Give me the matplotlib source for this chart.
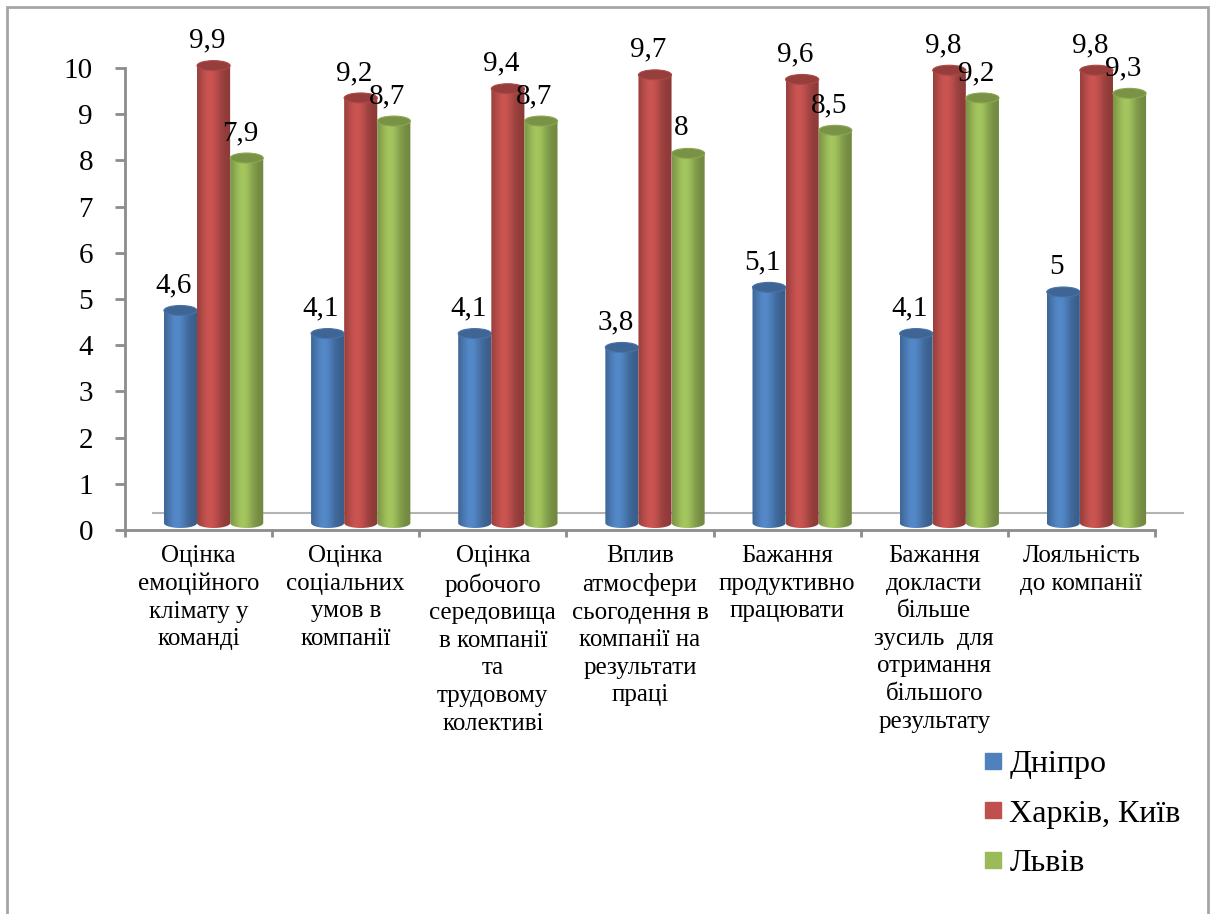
import numpy as np
import matplotlib
matplotlib.use('Agg')
import matplotlib.pyplot as plt
from matplotlib import transforms
from matplotlib.path import Path
from matplotlib.patches import PathPatch, Ellipse, Rectangle
from matplotlib.lines import Line2D
from matplotlib.colors import to_rgb


categories = [
    "Оцінка\nемоційного\nклімату у\nкоманді",
    "Оцінка\nсоціальних\nумов в\nкомпанії",
    "Оцінка\nробочого\nсередовища\nв компанії\nта\nтрудовому\nколективі",
    "Вплив\nатмосфери\nсьогодення в\nкомпанії на\nрезультати\nпраці",
    "Бажання\nпродуктивно\nпрацювати",
    "Бажання\nдокласти\nбільше\nзусиль  для\nотримання\nбільшого\nрезультату",
    "Лояльність\nдо компанії",
]
series_names = ["Дніпро", "Харків, Київ", "Львів"]
dnipro = [4.6, 4.1, 4.1, 3.8, 5.1, 4.1, 5]
kharkiv_kyiv = [9.9, 9.2, 9.4, 9.7, 9.6, 9.8, 9.8]
lviv = [7.9, 8.7, 8.7, 8, 8.5, 9.2, 9.3]
series = [dnipro, kharkiv_kyiv, lviv]
colors = ["#4F81BD", "#C0504D", "#9BBB59"]
y_ticks = list(range(0, 11))

plt.rcParams['font.family'] = 'serif'
plt.rcParams['font.serif'] = ['Liberation Serif', 'DejaVu Serif']

W, H = 1214, 914
fig = plt.figure(figsize=(W / 100, H / 100), dpi=100)
unit = 46.2  # pixels per value unit
y_lo, y_hi = -0.3, 10.6
ax = fig.add_axes([125 / W, (384 + y_lo * unit) / H, 1030 / W, (y_hi - y_lo) * unit / H])

grey = "#8C8C8C"
bar_w = 0.225
cap_h = 0.216

# pseudo-3D: bars sit halfway into the floor, the back edge sits further away
px = fig.dpi_scale_trans
bar_trans = ax.transData + transforms.ScaledTranslation(0.15, 0.07, px)
back_trans = ax.transData + transforms.ScaledTranslation(0.275, 0.17, px)
label_trans = ax.transData + transforms.ScaledTranslation(0.085, 0.25, px)
cat_trans = ax.transData + transforms.ScaledTranslation(0, -0.15, px)


def cylinder(xc, v, color, z):
    x0, x1 = xc - bar_w / 2, xc + bar_w / 2
    th = np.linspace(np.pi, 2 * np.pi, 40)
    bottom = np.column_stack([xc + bar_w / 2 * np.cos(th), cap_h / 2 * np.sin(th)])
    verts = np.vstack([[x0, v], bottom, [x1, v], [x0, v]])
    codes = [Path.MOVETO] + [Path.LINETO] * (len(verts) - 2) + [Path.CLOSEPOLY]
    clip = PathPatch(Path(verts, codes), transform=bar_trans,
                     facecolor="none", edgecolor="none")
    ax.add_patch(clip)

    t = np.linspace(0, 1, 64)
    shade = 0.72 + 0.34 * np.exp(-((t - 0.38) / 0.32) ** 2)
    rgb = np.clip(np.outer(shade, to_rgb(color)), 0, 1)
    im = ax.imshow(rgb[np.newaxis, :, :], extent=[x0, x1, -cap_h / 2, v],
                   aspect="auto", transform=bar_trans, interpolation="bilinear",
                   zorder=z)
    im.set_clip_path(clip)

    top = np.array(to_rgb(color)) * 0.78
    ax.add_patch(Ellipse((xc, v), bar_w, cap_h, transform=bar_trans,
                         facecolor=top, edgecolor=np.array(to_rgb(color)) * 0.9,
                         linewidth=0.8, zorder=z + 0.001))


z = 3.0
for i in range(len(categories)):
    for k, vals in enumerate(series):
        xc = i + 0.5 + (k - 1) * bar_w
        cylinder(xc, vals[i], colors[k], z)
        z += 0.01

# value labels
for i in range(len(categories)):
    for k, vals in enumerate(series):
        xc = i + 0.5 + (k - 1) * bar_w
        ax.text(xc, vals[i], f"{vals[i]:g}".replace(".", ","), transform=label_trans,
                ha="center", va="baseline", fontsize=21, zorder=10)

# floor outline
n = len(categories)
ax.plot([0, n], [0, 0], transform=back_trans, color="#B4B4B4", lw=1.5, clip_on=False, zorder=1)
for xe in (0, n):
    p0 = ax.transData.transform((xe, 0))
    p1 = back_trans.transform((xe, 0))
    ax.add_line(Line2D([p0[0], p1[0]], [p0[1], p1[1]], transform=None,
                       color="#B4B4B4", lw=1.5, zorder=1))

ax.set_xlim(0, n)
ax.set_ylim(y_lo, y_hi)
ax.set_yticks(y_ticks)
ax.set_xticks(range(n + 1))
ax.set_xticklabels([])
for s in ("top", "right"):
    ax.spines[s].set_visible(False)
for s in ("left", "bottom"):
    ax.spines[s].set_color(grey)
    ax.spines[s].set_linewidth(2)
ax.spines["left"].set_bounds(0, 10)
ax.spines["bottom"].set_position(("data", 0))
ax.tick_params(axis="y", length=7, width=2, color=grey, labelsize=21, pad=16)
ax.tick_params(axis="x", length=5, width=2, color=grey)
ax.patch.set_visible(False)

for i, cat in enumerate(categories):
    ax.text(i + 0.5, 0, cat, transform=cat_trans, ha="center", va="top",
            multialignment="center", fontsize=18, linespacing=1.33)

handles = [Line2D([], [], marker="s", linestyle="none", markersize=11.5,
                  color=c, label=name) for c, name in zip(colors, series_names)]
fig.legend(handles=handles, loc="upper left", bbox_to_anchor=(980 / W, 1 - 750 / H),
           frameon=False, fontsize=23, handlelength=0.8, handletextpad=0.12,
           labelspacing=0.62, borderpad=0, borderaxespad=0)

fig.patches.append(Rectangle((7 / W, -0.05), 1201 / W, 0.05 + 907 / H, transform=fig.transFigure,
                             fill=False, edgecolor="#A6A6A6", linewidth=2))

fig.savefig("out.png", dpi=100)
